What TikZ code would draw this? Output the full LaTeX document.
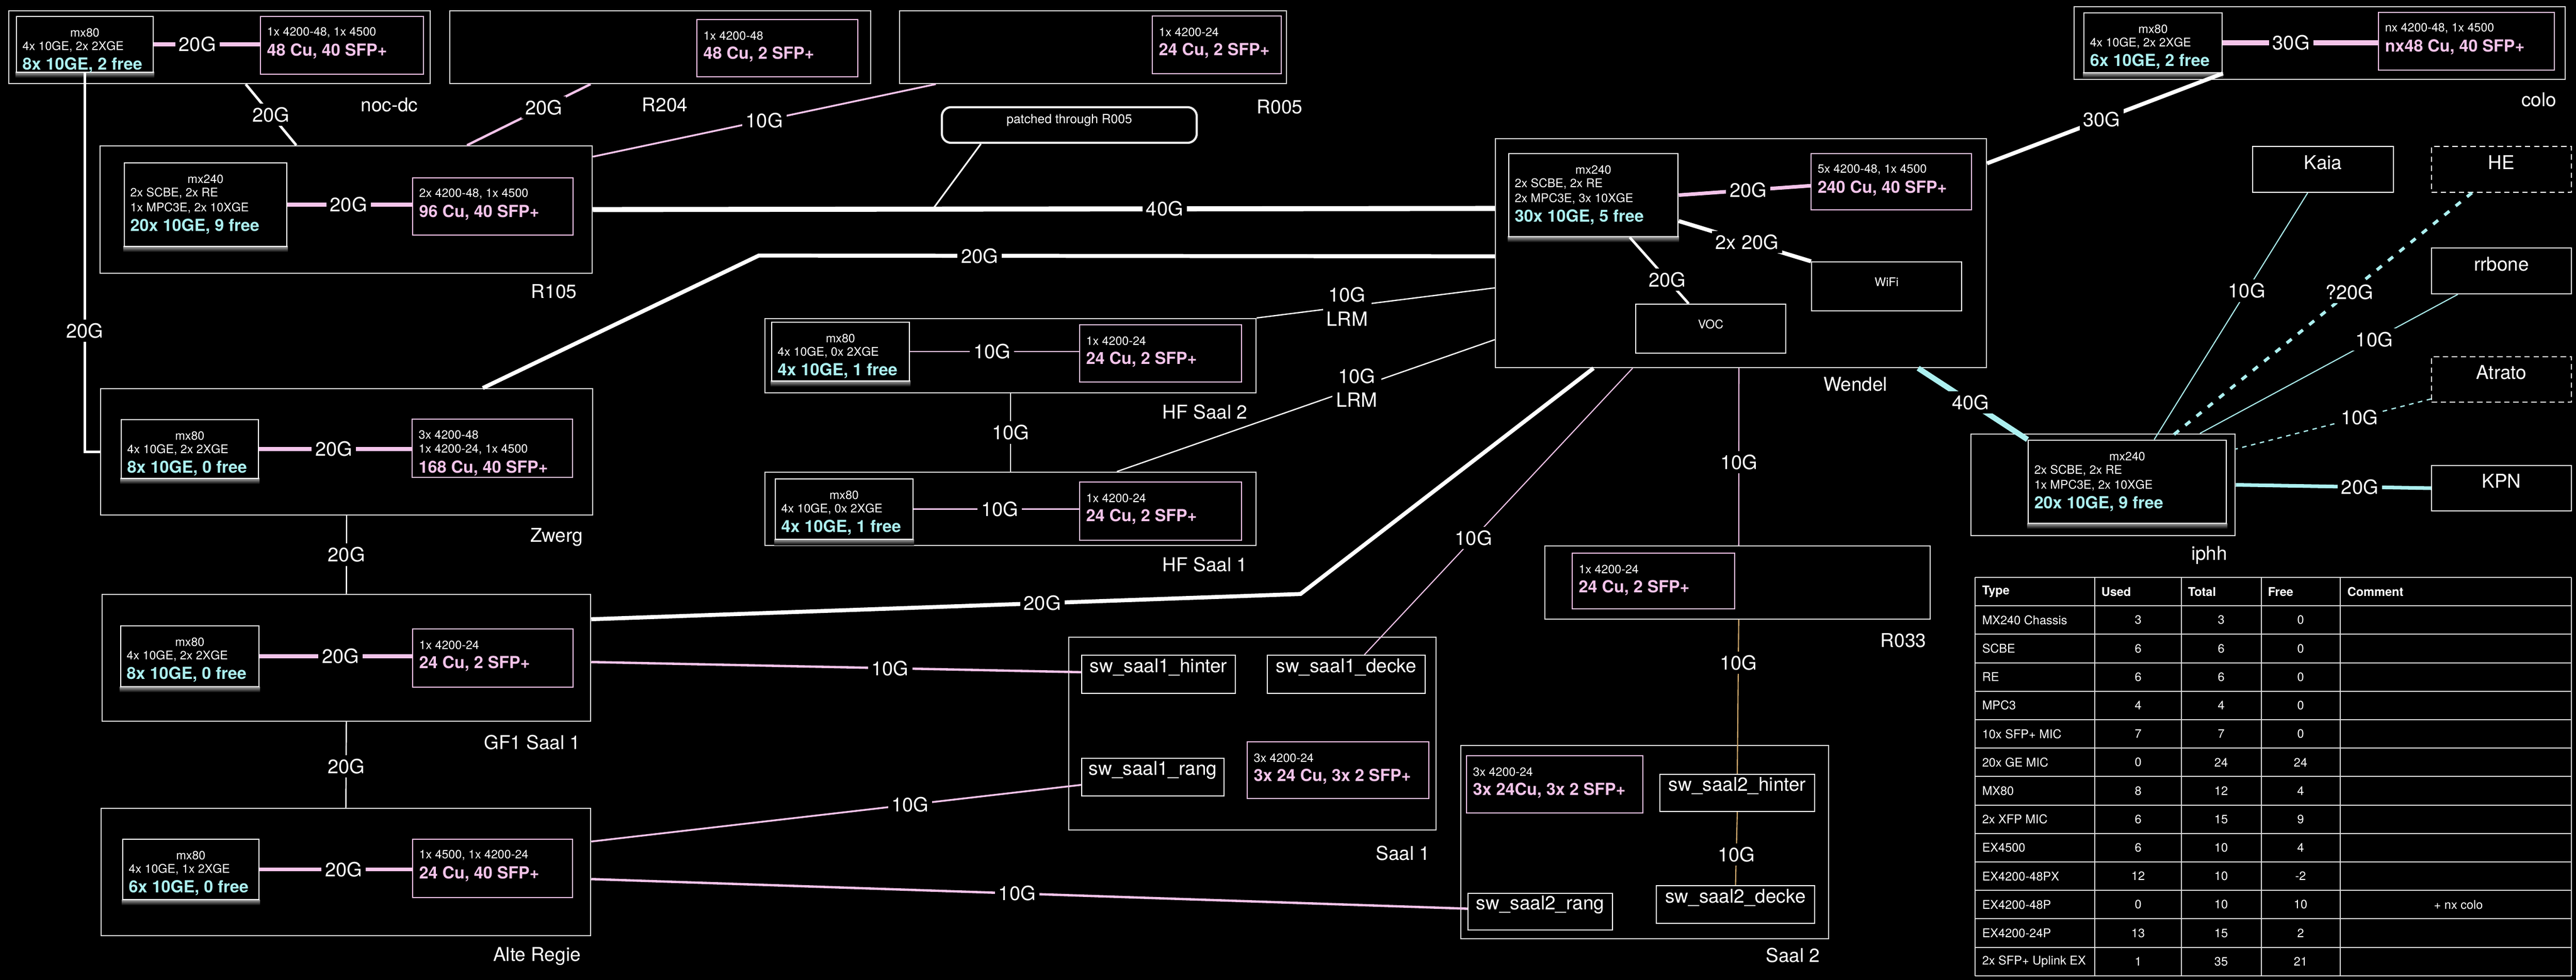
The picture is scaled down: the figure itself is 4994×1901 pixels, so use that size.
\documentclass[tikz,border=0pt]{standalone}
\usepackage{fontspec}
\setmainfont{TeX Gyre Heros}
\usetikzlibrary{fit,calc}
\definecolor{pk}{RGB}{244,196,234}
\definecolor{cy}{RGB}{172,240,240}
\definecolor{tanc}{RGB}{214,174,112}
\definecolor{edgec}{RGB}{222,222,222}
% mx80 style router box: name x1 y1 x2 y2 title line cyan
\newcommand\MXe[8]{%
 \shade[top color=gray!70, bottom color=black] (#2-2,#5) rectangle (#4+2,#5+11);
 \node[mxbox, fit={(#2,#3) (#4,#5)}] (#1) {};
 \node[sm] (#1-t) at ({(#2+#4)/2},#3+31) {#6};
 \node[sm,anchor=west] (#1-a) at (#2+11,#3+59) {#7};
 \node[cyt] (#1-c) at (#2+11,#3+94) {#8};}
% mx240 style router box
\newcommand\MXf[9]{%
 \shade[top color=gray!70, bottom color=black] (#2-2,#5) rectangle (#4+2,#5+11);
 \node[mxbox, fit={(#2,#3) (#4,#5)}] (#1) {};
 \node[sm] (#1-t) at ({(#2+#4)/2},#3+31) {#6};
 \node[sm,anchor=west] (#1-a) at (#2+11,#3+59) {#7};
 \node[sm,anchor=west] (#1-b) at (#2+11,#3+88) {#8};
 \node[cyt] (#1-c) at (#2+11,#3+123) {#9};}
% switch boxes
\newcommand\SWb[7]{%
 \node[swbox, fit={(#2,#3) (#4,#5)}] (#1) {};
 \node[sm,anchor=west] (#1-a) at (#2+12,#3+31) {#6};
 \node[pkt] (#1-b) at (#2+12,#3+67) {#7};}
\newcommand\SWc[8]{%
 \node[swbox, fit={(#2,#3) (#4,#5)}] (#1) {};
 \node[sm,anchor=west] (#1-a) at (#2+12,#3+30) {#6};
 \node[sm,anchor=west] (#1-b) at (#2+12,#3+59) {#7};
 \node[pkt] (#1-c) at (#2+12,#3+95) {#8};}
\begin{document}
\begin{tikzpicture}[x=0.01cm,y=-0.01cm,
  roombox/.style={draw=edgec, line width=0.7pt, inner sep=0pt},
  mxbox/.style={draw=white, line width=0.8pt, fill=black, inner sep=0pt},
  swbox/.style={draw=pk, line width=0.6pt, fill=black, inner sep=0pt},
  plainbox/.style={draw=white, line width=0.6pt, fill=black, inner sep=0pt, text=white},
  dashbox/.style={plainbox, dash pattern=on 3pt off 2pt},
  lbl/.style={fill=black, text=white, font=\fontsize{10.8}{13.3}\selectfont, inner sep=2pt},
  rlbl/.style={text=white, font=\fontsize{10.5}{12}\selectfont, inner sep=0pt},
  swt/.style={font=\fontsize{10.5}{12}\selectfont},
  sm/.style={text=white, font=\fontsize{6.6}{7.5}\selectfont, inner sep=0pt},
  cyt/.style={text=cy, font=\bfseries\fontsize{9.2}{10}\selectfont, inner sep=0pt, anchor=west},
  pkt/.style={text=pk, font=\bfseries\fontsize{9.2}{10}\selectfont, inner sep=0pt, anchor=west},
  tbt/.style={text=white, font=\fontsize{6.7}{7.5}\selectfont, inner sep=0pt},
  thd/.style={tbt, font=\bfseries\fontsize{6.7}{7.5}\selectfont, anchor=west},
  tbl/.style={draw=edgec, line width=0.6pt},
  wA/.style={draw=white, line width=2.8pt},
  wB/.style={draw=white, line width=2.2pt},
  wC/.style={draw=white, line width=1.4pt},
  wD/.style={draw=white, line width=0.7pt},
  pA/.style={draw=pk, line width=2pt},
  pB/.style={draw=pk, line width=1.3pt},
  pC/.style={draw=pk, line width=1pt},
  pD/.style={draw=pk, line width=0.6pt},
  pE/.style={draw=pk, line width=0.7pt},
  tD/.style={draw=tanc, line width=0.6pt},
  cA/.style={draw=cy, line width=3pt},
  cB/.style={draw=cy, line width=2pt},
  cD/.style={draw=cy, line width=0.6pt},
  cdot/.style={draw=cy, line width=1.7pt, dash pattern=on 3.5pt off 4.5pt},
  cdash/.style={draw=cy, line width=0.7pt, dash pattern=on 2.5pt off 2.5pt}]
\useasboundingbox (0,0) rectangle (4994,1901);
\fill[black] (0,0) rectangle (4994,1901);

% ---------- room boxes ----------
\node[roombox, fit={(17,21) (834,162)}] (nocdc) {};
\node[roombox, fit={(872,21) (1688,162)}] (r204) {};
\node[roombox, fit={(1744,21) (2494,162)}] (r005) {};
\node[roombox, fit={(4021,13) (4973,154)}] (colo) {};
\node[roombox, fit={(194,283) (1148,530)}] (r105) {};
\node[roombox, fit={(2899,269) (3851,713)}] (wendel) {};
\node[roombox, fit={(195,754) (1149,999)}] (zwerg) {};
\node[roombox, fit={(1483,618) (2435,762)}] (hf2) {};
\node[roombox, fit={(1483,916) (2435,1058)}] (hf1) {};
\node[roombox, fit={(3821,842) (4333,1039)}] (iphh) {};
\node[roombox, fit={(2995,1059) (3742,1201)}] (r033) {};
\node[roombox, fit={(198,1153) (1145,1399)}] (gf1) {};
\node[roombox, fit={(2072,1236) (2784,1610)}] (saal1) {};
\node[roombox, fit={(2832,1446) (3545,1821)}] (saal2) {};
\node[roombox, fit={(196,1568) (1145,1815)}] (alte) {};

\node[rlbl] (nocdc-l) at (755,203) {noc-dc};
\node[rlbl] (r204-l) at (1289,203) {R204};
\node[rlbl] (r005-l) at (2481,207) {R005};
\node[rlbl] (colo-l) at (4922,193) {colo};
\node[rlbl] (r105-l) at (1074,565) {R105};
\node[rlbl] (wendel-l) at (3597,745) {Wendel};
\node[rlbl] (zwerg-l) at (1079,1042) {Zwerg};
\node[rlbl] (hf2-l) at (2336,799) {HF Saal 2};
\node[rlbl] (hf1-l) at (2336,1095) {HF Saal 1};
\node[rlbl] (iphh-l) at (4283,1077) {iphh};
\node[rlbl] (r033-l) at (3690,1242) {R033};
\node[rlbl] (gf1-l) at (1032,1440) {GF1 Saal 1};
\node[rlbl] (saal1-l) at (2720,1655) {Saal 1};
\node[rlbl] (saal2-l) at (3476,1853) {Saal 2};
\node[rlbl] (alte-l) at (1041,1855) {Alte Regie};

% ---------- routers ----------
\MXe{nocmx}{32}{32}{297}{140}{mx80}{4x 10GE, 2x 2XGE}{8x 10GE, 2 free}
\MXf{r105mx}{241}{316}{556}{478}{mx240}{2x SCBE, 2x RE}{1x MPC3E, 2x 10XGE}{20x 10GE, 9 free}
\MXe{zwmx}{235}{814}{501}{928}{mx80}{4x 10GE, 2x 2XGE}{8x 10GE, 0 free}
\MXe{gfmx}{234}{1214}{502}{1332}{mx80}{4x 10GE, 2x 2XGE}{8x 10GE, 0 free}
\MXe{almx}{238}{1628}{502}{1745}{mx80}{4x 10GE, 1x 2XGE}{6x 10GE, 0 free}
\MXe{hf2mx}{1496}{625}{1763}{739}{mx80}{4x 10GE, 0x 2XGE}{4x 10GE, 1 free}
\MXe{hf1mx}{1503}{929}{1770}{1046}{mx80}{4x 10GE, 0x 2XGE}{4x 10GE, 1 free}
\MXf{wemx}{2925}{298}{3253}{459}{mx240}{2x SCBE, 2x RE}{2x MPC3E, 3x 10XGE}{30x 10GE, 5 free}
\MXe{comx}{4040}{25}{4308}{141}{mx80}{4x 10GE, 2x 2XGE}{6x 10GE, 2 free}
\MXf{ipmx}{3932}{854}{4316}{1015}{mx240}{2x SCBE, 2x RE}{1x MPC3E, 2x 10XGE}{20x 10GE, 9 free}

% ---------- switches ----------
\SWb{nocsw}{505}{32}{821}{144}{1x 4200-48, 1x 4500}{48 Cu, 40 SFP+}
\SWb{r204sw}{1351}{38}{1663}{149}{1x 4200-48}{48 Cu, 2 SFP+}
\SWb{r005sw}{2234}{31}{2484}{143}{1x 4200-24}{24 Cu, 2 SFP+}
\SWb{r105sw}{800}{345}{1111}{456}{2x 4200-48, 1x 4500}{96 Cu, 40 SFP+}
\SWc{zwsw}{799}{813}{1110}{926}{3x 4200-48}{1x 4200-24, 1x 4500}{168 Cu, 40 SFP+}
\SWb{gfsw}{800}{1220}{1111}{1333}{1x 4200-24}{24 Cu, 2 SFP+}
\SWb{alsw}{800}{1628}{1110}{1741}{1x 4500, 1x 4200-24}{24 Cu, 40 SFP+}
\SWb{hf2sw}{2093}{630}{2407}{741}{1x 4200-24}{24 Cu, 2 SFP+}
\SWb{hf1sw}{2093}{935}{2407}{1048}{1x 4200-24}{24 Cu, 2 SFP+}
\SWb{wesw}{3511}{298}{3822}{407}{5x 4200-48, 1x 4500}{240 Cu, 40 SFP+}
\SWb{cosw}{4611}{24}{4952}{136}{nx 4200-48, 1x 4500}{nx48 Cu, 40 SFP+}
\SWb{r033sw}{3048}{1073}{3363}{1181}{1x 4200-24}{24 Cu, 2 SFP+}
\SWb{s1sw}{2418}{1439}{2770}{1549}{3x 4200-24}{3x 24 Cu, 3x 2 SFP+}
\SWb{s2sw}{2843}{1466}{3185}{1577}{3x 4200-24}{3x 24Cu, 3x 2 SFP+}

% ---------- plain boxes ----------
\node[plainbox, sm, fit={(3512,508) (3803,603)}] (wifi) {WiFi};
\node[plainbox, sm, fit={(3171,590) (3462,685)}] (voc) {VOC};
\node[plainbox, swt, fit={(4367,284) (4640,373)}] (kaia) {Kaia};
\node[dashbox, swt, fit={(4714,284) (4985,373)}] (he) {HE};
\node[plainbox, swt, fit={(4714,481) (4985,570)}] (rrbone) {rrbone};
\node[dashbox, swt, fit={(4714,692) (4985,780)}] (atrato) {Atrato};
\node[plainbox, swt, fit={(4714,903) (4985,991)}] (kpn) {KPN};
\node[plainbox, swt, fit={(2097,1271) (2395,1345)}] (s1h) {sw\_saal1\_hinter};
\node[plainbox, swt, fit={(2457,1271) (2763,1345)}] (s1d) {sw\_saal1\_decke};
\node[plainbox, swt, fit={(2097,1471) (2373,1544)}] (s1r) {sw\_saal1\_rang};
\node[plainbox, swt, fit={(3218,1502) (3518,1574)}] (s2h) {sw\_saal2\_hinter};
\node[plainbox, swt, fit={(3211,1718) (3518,1791)}] (s2d) {sw\_saal2\_decke};
\node[plainbox, swt, fit={(2846,1733) (3126,1804)}] (s2r) {sw\_saal2\_rang};
\node[draw=white!85!gray, line width=1.2pt, fill=black, rounded corners=5pt, inner sep=0pt,
      text=white, font=\fontsize{7}{8}\selectfont, fit={(1826,208) (2320,277)}] (callout) {patched through R005};

% ---------- connectors ----------
\draw[wC] (nocmx.south) |- (zwerg.west) node[lbl,pos=0.34] (l1) {20G};
\draw[wC] ($(nocdc.south west)!0.562!(nocdc.south east)$) -- ($(r105.north west)!0.399!(r105.north east)$) node[lbl,pos=0.5] (l2) {20G};
\draw[pB] ($(r204.south west)!0.335!(r204.south east)$) -- ($(r105.north west)!0.745!(r105.north east)$) node[lbl,pos=0.38] (l3) {20G};
\draw[pC] ($(r005.south west)!0.095!(r005.south east)$) -- ($(r105.north east)!0.089!(r105.south east)$) node[lbl,pos=0.5] (l4) {10G};
\draw[wA] (r105.east) -- ($(wendel.north west)!0.306!(wendel.south west)$) coordinate[pos=0.377] (tip) node[lbl,pos=0.634] (l5) {40G};
\draw[white, line width=0.9pt] ($(callout.south west)!0.156!(callout.south east)$) -- (tip);
\draw[wB] ($(zwerg.north west)!0.776!(zwerg.north east)$) -- ++(535,-257) -- ($(wendel.north west)!0.514!(wendel.south west)$) node[lbl,pos=0.30] (l6) {20G};
\draw[wB] ($(gf1.north east)!0.199!(gf1.south east)$) -- node[lbl,pos=0.636] (l7) {20G} ++(1375,-49) -- ($(wendel.south west)!0.2006!(wendel.south east)$);
\draw[wD] (hf2.north east) -- ($(wendel.north west)!0.651!(wendel.south west)$) node[lbl,pos=0.38,align=center] (l8) {10G\\LRM};
\draw[wD] ($(hf1.north west)!0.716!(hf1.north east)$) -- ($(wendel.north west)!0.876!(wendel.south west)$) node[lbl,pos=0.635,align=center] (l9) {10G\\LRM};
\draw[wD] (hf2.south) -- (hf1.north) node[lbl,midway] (l10) {10G};
\draw[wB] (comx.south east) -- ($(wendel.north east)!0.11!(wendel.south east)$) node[lbl,pos=0.514] (l11) {30G};
\draw[cA] ($(wendel.south west)!0.86!(wendel.south east)$) -- (ipmx.north west) node[lbl,pos=0.48] (l12) {40G};
\draw[pD] ($(wendel.south west)!0.496!(wendel.south east)$) -- ($(r033.north west)!0.503!(r033.north east)$) node[lbl,pos=0.53] (l13) {10G};
\draw[tD] ($(r033.south west)!0.503!(r033.south east)$) -- (s2h.north) node[lbl,pos=0.28] (l14) {10G};
\draw[tD] (s2h.south) -- (s2d.north) node[lbl,pos=0.58] (l15) {10G};
\draw[pD] ($(wendel.south west)!0.28!(wendel.south east)$) -- ($(s1d.north west)!0.614!(s1d.north east)$) node[lbl,pos=0.593] (l16) {10G};
\draw[pA] (wemx.east) -- ($(wesw.north west)!0.57!(wesw.south west)$) node[lbl,pos=0.527] (l17) {20G};
\draw[wB] ($(wemx.north east)!0.807!(wemx.south east)$) -- (wifi.north west) node[lbl,pos=0.517] (l18) {2x 20G};
\draw[wC] ($(wemx.south west)!0.713!(wemx.south east)$) -- ($(voc.north west)!0.354!(voc.north east)$) node[lbl,pos=0.64] (l19) {20G};
% router - switch
\draw[pA] (nocmx.east) -- (nocmx.east -| nocsw.west) node[lbl,pos=0.41] (l20) {20G};
\draw[pA] (r105mx.east) -- (r105mx.east -| r105sw.west) node[lbl,pos=0.49] (l21) {20G};
\draw[pA] (zwmx.east) -- (zwmx.east -| zwsw.west) node[lbl,pos=0.49] (l22) {20G};
\draw[pA] (gfmx.east) -- (gfmx.east -| gfsw.west) node[lbl,pos=0.53] (l23) {20G};
\draw[pA] (almx.east) -- (almx.east -| alsw.west) node[lbl,pos=0.55] (l24) {20G};
\draw[pE] (hf2mx.east) -- (hf2mx.east -| hf2sw.west) node[lbl,pos=0.485] (l25) {10G};
\draw[pE] (hf1mx.east) -- (hf1mx.east -| hf1sw.west) node[lbl,pos=0.52] (l26) {10G};
\draw[pk, line width=3.1pt] (comx.east) -- (comx.east -| cosw.west) node[lbl,pos=0.44] (l27) {30G};
% to saal switches
\draw[pB] ($(gf1.north east)!0.533!(gf1.south east)$) -- ($(s1h.north west)!0.446!(s1h.south west)$) node[lbl,pos=0.61] (l28) {10G};
\draw[pC] ($(alte.north east)!0.263!(alte.south east)$) -- ($(s1r.north west)!0.70!(s1r.south west)$) node[lbl,pos=0.651] (l29) {10G};
\draw[pB] ($(alte.north east)!0.555!(alte.south east)$) -- ($(s2r.north west)!0.42!(s2r.south west)$) node[lbl,pos=0.486] (l30) {10G};
\draw[wD] (zwerg.south) -- (gf1.north) node[lbl,pos=0.5] (l31) {20G};
\draw[wD] (gf1.south) -- (alte.north) node[lbl,pos=0.52] (l32) {20G};
% iphh uplinks
\draw[cD] ($(kaia.south west)!0.392!(kaia.south east)$) -- ($(ipmx.north west)!0.635!(ipmx.north east)$) node[lbl,pos=0.397] (l33) {10G};
\draw[cdot] ($(he.south west)!0.29!(he.south east)$) -- ($(ipmx.north west)!0.703!(ipmx.north east)$) node[lbl,pos=0.403] (l34) {?20G};
\draw[cD] ($(rrbone.south west)!0.19!(rrbone.south east)$) -- ($(iphh.north west)!0.865!(iphh.north east)$) node[lbl,pos=0.324] (l35) {10G};
\draw[cdash] ($(atrato.north west)!0.92!(atrato.south west)$) -- ($(iphh.north east)!0.152!(iphh.south east)$) node[lbl,pos=0.367] (l36) {10G};
\draw[cB] (iphh.east) -- (kpn.west) node[lbl,pos=0.635] (l37) {20G};

% ---------- table ----------
\foreach \r in {0,...,14} \draw[tbl] (3829,{1120+55.2*\r}) -- (4985,{1120+55.2*\r});
\foreach \x in {3829,4061,4229,4384,4537,4985} \draw[tbl] (\x,1120) -- (\x,1893);
\node[thd] (th1) at (3842,1147.6) {Type};
\node[thd] (th2) at (4073,1147.6) {Used};
\node[thd] (th3) at (4241,1147.6) {Total};
\node[thd] (th4) at (4396,1147.6) {Free};
\node[thd] (th5) at (4550,1147.6) {Comment};
\foreach \ty/\u/\t/\f [count=\i] in {MX240 Chassis/3/3/0, SCBE/6/6/0, RE/6/6/0, MPC3/4/4/0, 10x SFP+ MIC/7/7/0, 20x GE MIC/0/24/24, MX80/8/12/4, 2x XFP MIC/6/15/9, EX4500/6/10/4, EX4200-48PX/12/10/-2, EX4200-48P/0/10/10, EX4200-24P/13/15/2, 2x SFP+ Uplink EX/1/35/21}{
  \node[tbt,anchor=west] (ta\i) at (3842,{1120+55.2*(\i+0.5)}) {\ty};
  \node[tbt] (tb\i) at (4145,{1120+55.2*(\i+0.5)}) {\u};
  \node[tbt] (tc\i) at (4306,{1120+55.2*(\i+0.5)}) {\t};
  \node[tbt] (td\i) at (4460,{1120+55.2*(\i+0.5)}) {\f};
}
\node[tbt] (tcom) at (4766,{1120+55.2*11.5}) {+ nx colo};
\end{tikzpicture}
\end{document}
